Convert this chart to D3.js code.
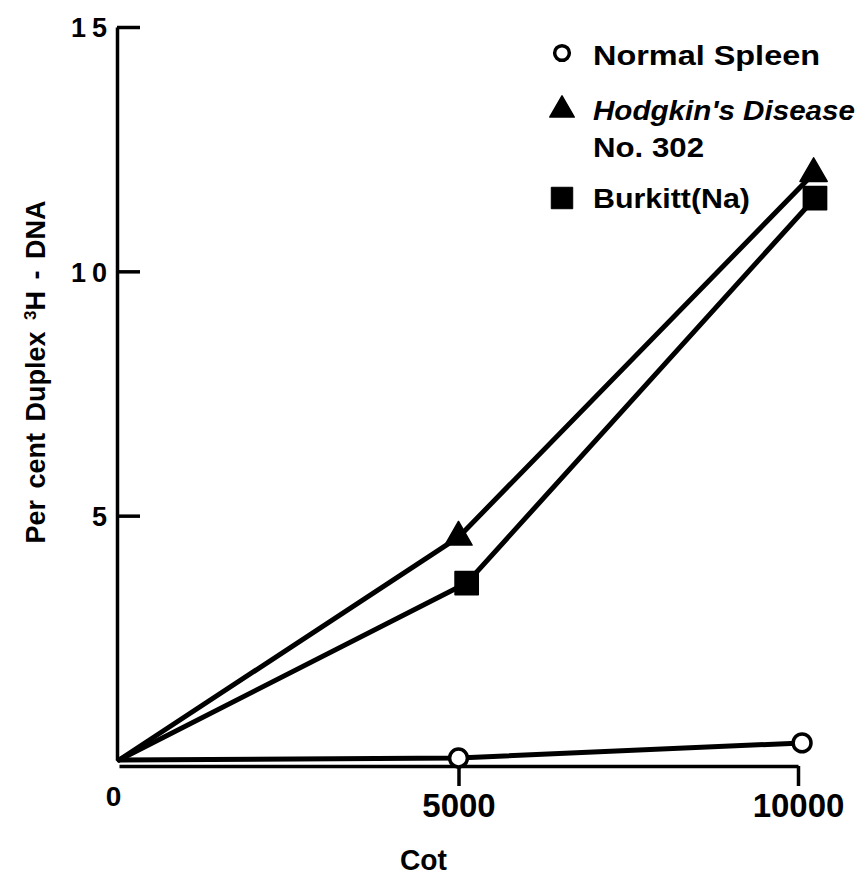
<!DOCTYPE html>
<html>
<head>
<meta charset="utf-8">
<script src="https://cdn.jsdelivr.net/npm/d3@7"></script>
<style>
  html, body { margin: 0; padding: 0; background: #fff; }
  svg { display: block; }
  text { font-family: "Liberation Sans", Arial, sans-serif; font-weight: bold; fill: #000; }
</style>
</head>
<body>
<svg id="chart" width="864" height="876"></svg>
<script>
// Reassociation of 3H-DNA with RNA/DNA from different tissues, as a function of Cot
const seriesNames = ["Normal Spleen", "Hodgkin's Disease", "Burkitt(Na)"];

const normalCot = [0, 5000, 10060];
const normalPct = [0, 0.04, 0.35];

const hodgkinCot = [0, 5000, 10230];
const hodgkinPct = [0, 4.56, 12.0];

const burkittCot = [0, 5120, 10250];
const burkittPct = [0, 3.62, 11.5];

const xTicks = [0, 5000, 10000];
const yTicks = [5, 10, 15];

const svg = d3.select("#chart");

const x = d3.scaleLinear().domain([0, 10000]).range([119, 798]);
const y = d3.scaleLinear().domain([0, 15]).range([760, 27]);

// Y axis with inward ticks
const yAxis = svg.append("g")
  .attr("transform", "translate(117,0)")
  .call(d3.axisLeft(y).tickValues(yTicks).tickSizeInner(-23).tickSizeOuter(0).tickPadding(4)
    .tickFormat(d3.format("d")));
yAxis.select(".domain").attr("stroke", "#000").attr("stroke-width", 3.5);
yAxis.selectAll(".tick line").attr("stroke", "#000").attr("stroke-width", 3.5);
yAxis.selectAll(".tick text")
  .style("font-size", "27px")
  .style("letter-spacing", "6px")
  .attr("dy", "0.36em")
  .attr("fill", "#000");

// X axis drawn a few pixels under the zero line, ticks pointing down
const xAxis = svg.append("g")
  .attr("transform", `translate(0,${y(0) + 6})`)
  .call(d3.axisBottom(x).tickValues(xTicks).tickSizeInner(20).tickSizeOuter(0).tickPadding(10)
    .tickFormat(d3.format("d")));
xAxis.select(".domain").attr("stroke", "#000").attr("stroke-width", 3.5);
xAxis.selectAll(".tick line").attr("stroke", "#000").attr("stroke-width", 3.5)
  .attr("display", d => d === 0 ? "none" : null);
xAxis.selectAll(".tick text")
  .style("font-size", d => d === 0 ? "28px" : "33px")
  .attr("dx", d => d === 0 ? -6 : 0)
  .attr("dy", d => d === 0 ? "0.35em" : "0.65em")
  .attr("fill", "#000");

// Series lines
const line = d3.line().x(d => x(d[0])).y(d => y(d[1]));
const seriesData = [
  { name: seriesNames[0], pts: d3.zip(normalCot, normalPct), sym: d3.symbolCircle },
  { name: seriesNames[1], pts: d3.zip(hodgkinCot, hodgkinPct), sym: d3.symbolTriangle },
  { name: seriesNames[2], pts: d3.zip(burkittCot, burkittPct), sym: d3.symbolSquare }
];

svg.append("g").selectAll("path")
  .data(seriesData)
  .join("path")
  .attr("d", s => line(s.pts))
  .attr("fill", "none")
  .attr("stroke", "#000")
  .attr("stroke-width", 5)
  .attr("stroke-linejoin", "round")
  .attr("stroke-linecap", "round");

// Markers (skip the shared origin)
const markerSize = { [seriesNames[0]]: 250, [seriesNames[1]]: 320, [seriesNames[2]]: 540 };
seriesData.forEach(s => {
  svg.append("g").selectAll("path")
    .data(s.pts.slice(1))
    .join("path")
    .attr("transform", d => `translate(${x(d[0])},${y(d[1])})`)
    .attr("d", d3.symbol().type(s.sym).size(markerSize[s.name]))
    .attr("fill", s.sym === d3.symbolCircle ? "#fff" : "#000")
    .attr("stroke", "#000")
    .attr("stroke-width", s.sym === d3.symbolCircle ? 3.5 : 1.5)
    .attr("stroke-linejoin", "round");
});

// Axis titles
svg.append("text")
  .attr("x", 400).attr("y", 870)
  .attr("textLength", 47).attr("lengthAdjust", "spacingAndGlyphs")
  .style("font-size", "29px")
  .text("Cot");

const yTitle = svg.append("text")
  .attr("transform", "translate(45,372) rotate(-90)")
  .attr("text-anchor", "middle")
  .style("font-size", "27px")
  .style("word-spacing", "4px");
yTitle.append("tspan").text("Per cent Duplex ");
yTitle.append("tspan").attr("baseline-shift", "super").style("font-size", "17px").text("3");
yTitle.append("tspan").text("H - DNA");

// Legend
const legend = svg.append("g");
const legendRows = [
  { sym: d3.symbolCircle, size: 170, cy: 53, fill: "#fff", sw: 3.5 },
  { sym: d3.symbolTriangle, size: 260, cy: 110, fill: "#000", sw: 1.5 },
  { sym: d3.symbolSquare, size: 460, cy: 198, fill: "#000", sw: 1 }
];
legend.selectAll("path")
  .data(legendRows)
  .join("path")
  .attr("transform", d => `translate(562,${d.cy})`)
  .attr("d", d => d3.symbol().type(d.sym).size(d.size)())
  .attr("fill", d => d.fill)
  .attr("stroke", "#000")
  .attr("stroke-width", d => d.sw)
  .attr("stroke-linejoin", "round");

const legendText = [
  { t: "Normal Spleen", y: 65, w: 227, italic: false },
  { t: "Hodgkin's Disease", y: 120, w: 262, italic: true },
  { t: "No. 302", y: 157, w: 111, italic: false },
  { t: "Burkitt(Na)", y: 208, w: 157, italic: false }
];
legend.selectAll("text")
  .data(legendText)
  .join("text")
  .attr("x", 593).attr("y", d => d.y)
  .attr("textLength", d => d.w)
  .attr("lengthAdjust", "spacingAndGlyphs")
  .style("font-size", "28px")
  .style("font-style", d => d.italic ? "italic" : "normal")
  .text(d => d.t);
</script>
</body>
</html>
